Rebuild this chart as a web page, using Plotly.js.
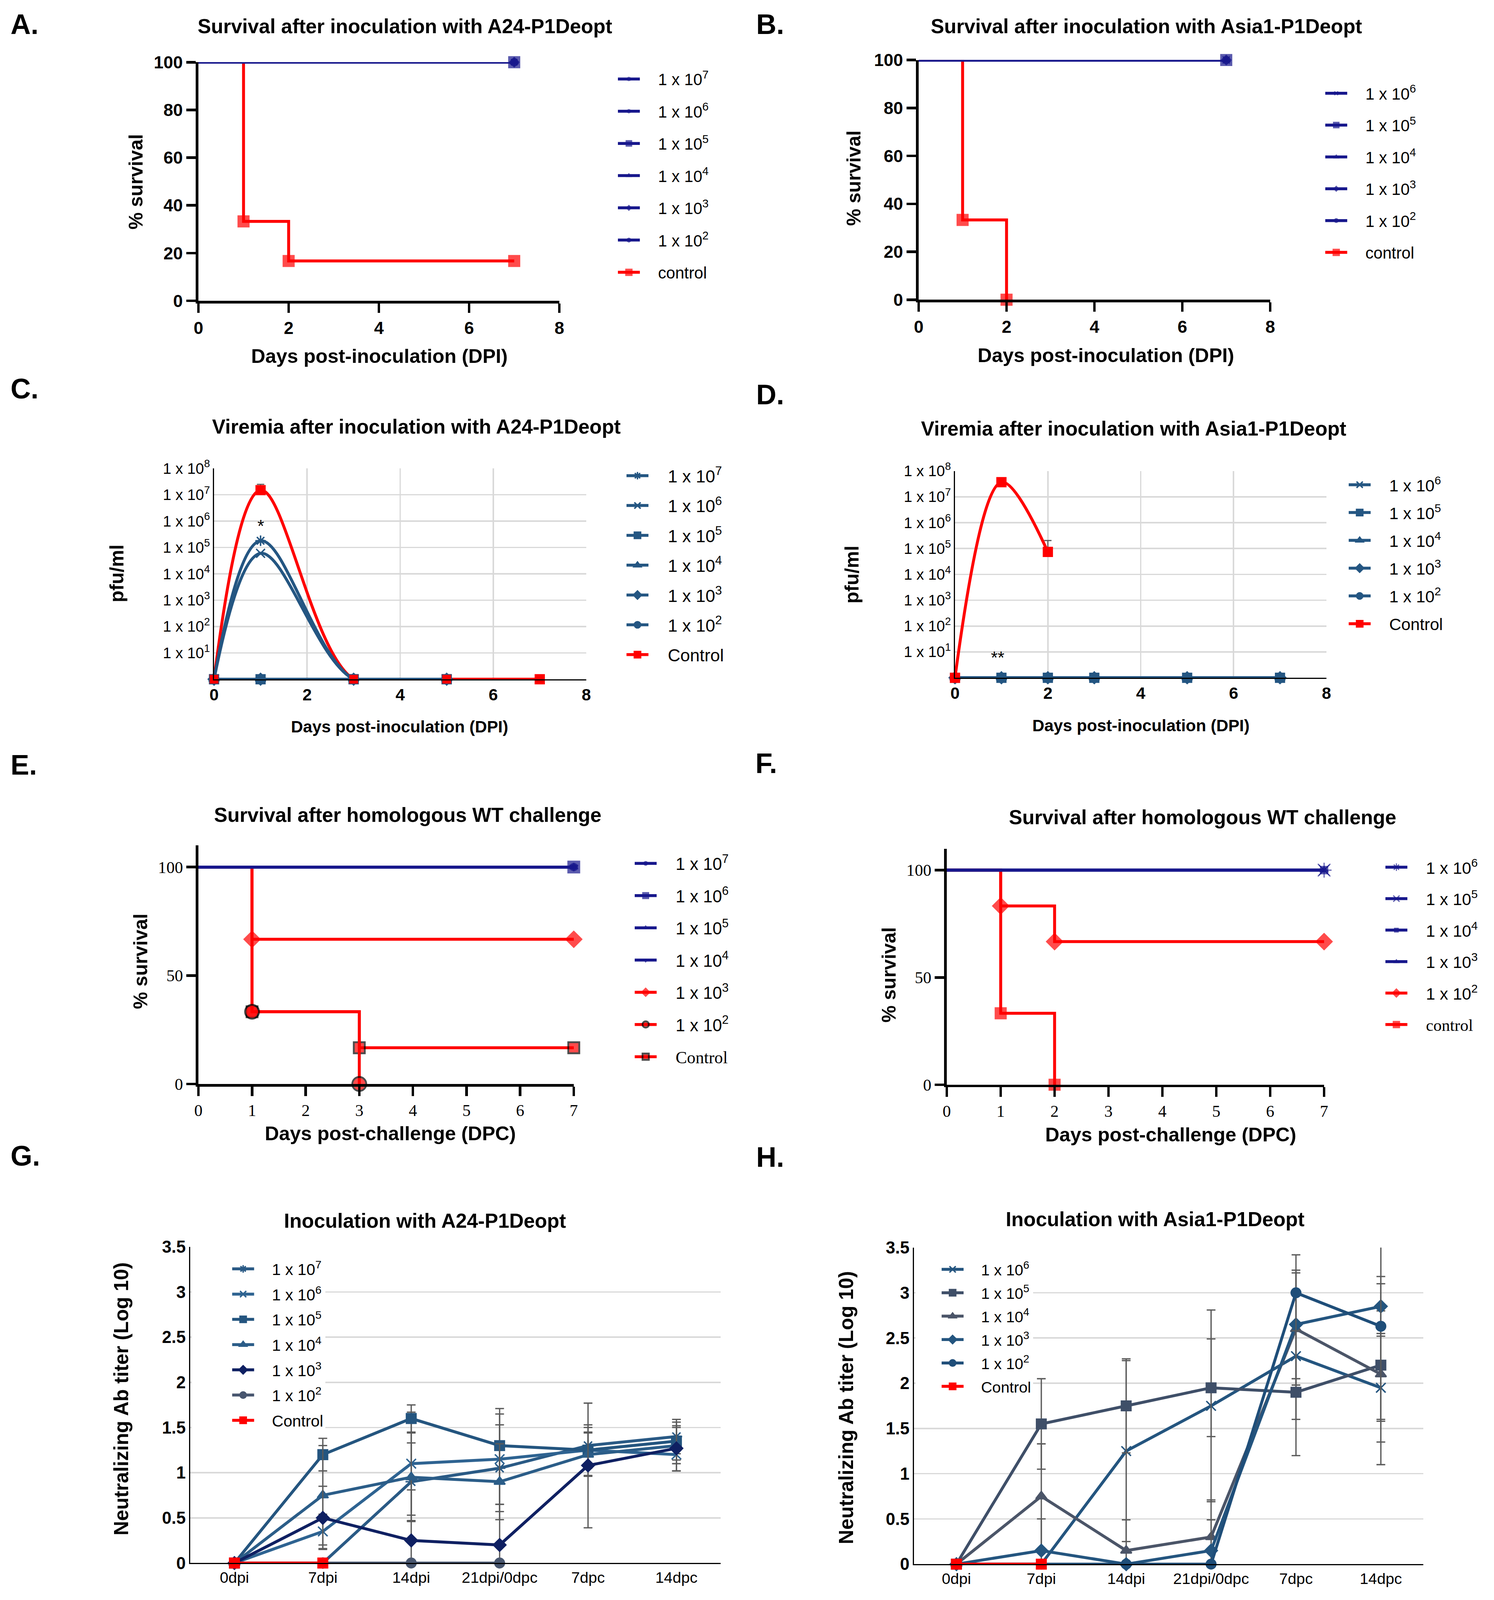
<!DOCTYPE html>
<html><head><meta charset="utf-8">
<script src="https://cdn.plot.ly/plotly-3.0.1.min.js"></script>
<style>html,body{margin:0;padding:0;background:#fff;overflow:hidden}</style>
</head><body><div id="chart"></div>
<script>
// ================= DATA =================
// A: survival after inoculation with A24-P1Deopt
const aDoseLabels = ['1 x 10<sup>7</sup>','1 x 10<sup>6</sup>','1 x 10<sup>5</sup>','1 x 10<sup>4</sup>','1 x 10<sup>3</sup>','1 x 10<sup>2</sup>'];
const aDoseDays = [0, 7];
const aDoseSurv = [100, 100];
const aCtrlDays = [0, 1, 2, 7];
const aCtrlSurv = [100, 33.3, 16.7, 16.7];
// B: survival after inoculation with Asia1-P1Deopt
const bDoseLabels = ['1 x 10<sup>6</sup>','1 x 10<sup>5</sup>','1 x 10<sup>4</sup>','1 x 10<sup>3</sup>','1 x 10<sup>2</sup>'];
const bDoseDays = [0, 7];
const bDoseSurv = [100, 100];
const bCtrlDays = [0, 1, 2];
const bCtrlSurv = [100, 33.3, 0];
// C: viremia A24-P1Deopt (pfu/ml, 1 = not detected)
const cDays = [0, 1, 3, 5];
const c1e7 = [1, 1.8e5, 1, 1];
const c1e6 = [1, 6.0e4, 1, 1];
const c1e5 = [1, 1, 1, 1];
const c1e4 = [1, 1, 1, 1];
const c1e3 = [1, 1, 1, 1];
const c1e2 = [1, 1, 1, 1];
const cCtrlDays = [0, 1, 3, 5, 7];
const cCtrl = [1, 1.5e7, 1, 1, 1];
const cCtrlErr = [0, 1.0e7, 0, 0, 0];
// D: viremia Asia1-P1Deopt
const dDays = [0, 1, 2, 3, 5, 7];
const d1e6 = [1, 1, 1, 1, 1, 1];
const d1e5 = [1, 1, 1, 1, 1, 1];
const d1e4 = [1, 1, 1, 1, 1, 1];
const d1e3 = [1, 1, 1, 1, 1, 1];
const d1e2 = [1, 1, 1, 1, 1, 1];
const dCtrlDays = [0, 1, 2];
const dCtrl = [1, 3.7e7, 7.4e4];
const dCtrlErr = [0, 0, 1.3e5];
const viremiaTickVals = [1e1, 1e2, 1e3, 1e4, 1e5, 1e6, 1e7, 1e8];
const viremiaTickText = ['1 x 10<sup>1</sup>','1 x 10<sup>2</sup>','1 x 10<sup>3</sup>','1 x 10<sup>4</sup>','1 x 10<sup>5</sup>','1 x 10<sup>6</sup>','1 x 10<sup>7</sup>','1 x 10<sup>8</sup>'];
// E: survival after homologous WT challenge (A24)
const eDoseDays = [0, 7];
const eDoseSurv = [100, 100];
const e1e3Days = [0, 1, 7];
const e1e3Surv = [100, 66.7, 66.7];
const e1e2Days = [0, 1, 3];
const e1e2Surv = [100, 33.3, 0];
const eCtrlDays = [0, 1, 3, 7];
const eCtrlSurv = [100, 33.3, 16.7, 16.7];
// F: survival after homologous WT challenge (Asia1)
const fDoseDays = [0, 7];
const fDoseSurv = [100, 100];
const f1e2Days = [0, 1, 2, 7];
const f1e2Surv = [100, 83.3, 66.7, 66.7];
const fCtrlDays = [0, 1, 2];
const fCtrlSurv = [100, 33.3, 0];
// G: neutralizing Ab titer, A24-P1Deopt
const timepoints = ['0dpi', '7dpi', '14dpi', '21dpi/0dpc', '7dpc', '14dpc'];
const g1e7 = [0, 0, 0.9, 1.05, 1.3, 1.4];
const g1e7Err = [0, 0, 0.43, 0.48, 0.2, 0.19];
const g1e6 = [0, 0.35, 1.1, 1.15, 1.25, 1.2];
const g1e6Err = [0, 0.19, 0.57, 0.5, 0.2, 0.18];
const g1e5 = [0, 1.2, 1.6, 1.3, 1.25, 1.35];
const g1e5Err = [0, 0.18, 0.15, 0.41, 0.28, 0.21];
const g1e4 = [0, 0.75, 0.95, 0.9, 1.2, 1.3];
const g1e4Err = [0, 0.55, 0.49, 0.42, 0.24, 0.2];
const g1e3 = [0, 0.5, 0.25, 0.2, 1.08, 1.27];
const g1e3Err = [0, 0.35, 0.56, 0.45, 0.69, 0.25];
const g1e2 = [0, 0, 0, 0, null, null];
const gCtrl = [0, 0];
// H: neutralizing Ab titer, Asia1-P1Deopt
const h1e6 = [0, 0, 1.25, 1.75, 2.3, 1.95];
const h1e6Err = [0, 0, 1.0, 1.06, 0.7, 0.6];
const h1e5 = [0, 1.55, 1.75, 1.95, 1.9, 2.2];
const h1e5Err = [0, 0.5, 0.52, 0.54, 0.7, 0.6];
const h1e4 = [0, 0.75, 0.15, 0.3, 2.6, 2.1];
const h1e4Err = [0, 0.58, 0.34, 0.41, 0.62, 1.0];
const h1e3 = [0, 0.15, 0, 0.15, 2.65, 2.85];
const h1e3Err = [0, 0.35, 0, 0.34, 0.6, 0.33];
const h1e2 = [0, 0, 0, 0, 3.0, 2.63];
const h1e2Err = [0, 0, 0, 0, 0.42, 1.05];
const hCtrl = [0, 0];

// ================= STYLE / LAYOUT HELPERS =================
const REFW = 3825, REFH = 4372;
const W = Math.min(window.innerWidth || REFW, REFW);
const H = Math.min(window.innerHeight || REFH, REFH);
const K = Math.min(W / REFW, H / REFH);
const KF = Math.sqrt(K);
const S = v => Math.round(v * K * 10) / 10;       // line / marker sizes scaled to viewport
const F = v => Math.round(v * KF * 10) / 10;      // font sizes
const px = v => v / REFW;                          // reference px -> paper fraction
const py = v => 1 - v / REFH;
const SANS = 'Liberation Sans, Arial, sans-serif';
const SERIF = 'Liberation Serif, Times New Roman, serif';
const NAVY = '#17178c', RED = '#ff0000', STEEL = '#245682', ERR = '#5a5a5a';
const PAD = '\u2002\u2002';
const lbl = t => PAD + t;
const serifLabel = t => PAD + '<span style="font-family:Liberation Serif,serif">' + t + '</span>';

function axn(i, k) { return i === 1 ? k : k + i; }

const traces = [];
let grp = 0;
function add(panel, leg, t) {
  t.xaxis = axn(panel, 'x'); t.yaxis = axn(panel, 'y');
  t.legend = leg; t.legendgroup = 'g' + (grp++);
  traces.push(t);
}

function surv(panel, leg, name, x, y, color, symbol, endSize, rank, outline) {
  add(panel, leg, {
    type: 'scatter', mode: 'lines+markers', name, x, y, legendrank: rank, cliponaxis: false,
    line: { shape: 'hv', color, width: S(8) },
    marker: { symbol, color, size: x.map((_, i) => i === 0 ? 0 : S(endSize)),
      line: { color: outline || color, width: S(outline ? 5 : 3) } }
  });
}

// ---- Panel A ----
surv(1, 'legend', lbl('control'), aCtrlDays, aCtrlSurv, RED, 'square', 30, 7);
const aSyms = ['asterisk-open', 'asterisk-open', 'square', 'triangle-up', 'diamond', 'circle'];
[0, 1, 3, 4, 5, 2].forEach(k => surv(1, 'legend', lbl(aDoseLabels[k]), aDoseDays, aDoseSurv, NAVY,
  aSyms[k], k === 2 ? 30 : 20, k + 1));

// ---- Panel B ----
surv(2, 'legend2', lbl('control'), bCtrlDays, bCtrlSurv, RED, 'square', 30, 6);
const bSyms = ['x-thin-open', 'square', 'triangle-up', 'diamond', 'circle'];
[0, 2, 3, 4, 1].forEach(k => surv(2, 'legend2', lbl(bDoseLabels[k]), bDoseDays, bDoseSurv, NAVY,
  bSyms[k], k === 1 ? 30 : 20, k + 1));

// ---- Panel C ----
function vir(panel, leg, name, x, y, color, symbol, rank, extra) {
  const t = Object.assign({
    type: 'scatter', mode: 'lines+markers', name, x, y, legendrank: rank, cliponaxis: false,
    line: { shape: 'spline', smoothing: 1, color, width: S(8) },
    marker: { symbol, color, size: S(24), line: { color, width: S(4) } }
  }, extra || {});
  add(panel, leg, t);
}
const errUp = arr => ({ type: 'data', symmetric: false, array: arr, arrayminus: arr.map(() => 0),
  color: ERR, thickness: S(3), width: S(10) });
vir(3, 'legend3', lbl('Control'), cCtrlDays, cCtrl, RED, 'square', 7, { error_y: errUp(cCtrlErr) });
const cSeries = [c1e7, c1e6, c1e5, c1e4, c1e3, c1e2];
const doseSyms6 = ['asterisk-open', 'x-thin-open', 'square', 'triangle-up', 'diamond', 'circle'];
cSeries.forEach((s, k) => vir(3, 'legend3', lbl(aDoseLabels[k]), cDays, s, STEEL, doseSyms6[k], k + 1));
add(3, 'legend3', { type: 'scatter', mode: 'markers', x: cCtrlDays, y: cCtrl, showlegend: false, cliponaxis: false,
  marker: { symbol: 'square', color: RED, size: S(24) } });

// ---- Panel D ----
const dSeries = [d1e6, d1e5, d1e4, d1e3, d1e2];
const doseSyms5 = ['x-thin-open', 'square', 'triangle-up', 'diamond', 'circle'];
dSeries.forEach((s, k) => vir(4, 'legend4', lbl(bDoseLabels[k]), dDays, s, STEEL, doseSyms5[k], k + 1));
vir(4, 'legend4', lbl('Control'), dCtrlDays, dCtrl, RED, 'square', 6, { error_y: errUp(dCtrlErr) });

// ---- Panel E ----
surv(5, 'legend5', serifLabel('Control'), eCtrlDays, eCtrlSurv, RED, 'square', 30, 7, '#000');
surv(5, 'legend5', lbl(aDoseLabels[4]), e1e3Days, e1e3Surv, RED, 'diamond', 34, 5);
surv(5, 'legend5', lbl(aDoseLabels[5]), e1e2Days, e1e2Surv, RED, 'circle', 38, 6, '#000');
[[0, 'circle'], [2, 'triangle-up'], [3, 'triangle-down'], [1, 'square']].forEach(([k, sym]) =>
  surv(5, 'legend5', lbl(aDoseLabels[k]), eDoseDays, eDoseSurv, NAVY, sym, k === 1 ? 32 : 20, k + 1));

// ---- Panel F ----
surv(6, 'legend6', serifLabel('control'), fCtrlDays, fCtrlSurv, RED, 'square', 30, 6);
surv(6, 'legend6', lbl(bDoseLabels[4]), f1e2Days, f1e2Surv, RED, 'diamond', 34, 5);
[[2, 'square'], [3, 'triangle-up'], [0, 'asterisk-open'], [1, 'x-thin-open']].forEach(([k, sym]) =>
  surv(6, 'legend6', lbl(bDoseLabels[k]), fDoseDays, fDoseSurv, NAVY, sym, k < 2 ? 34 : 20, k + 1));

// ---- Panel G ----
function ab(panel, leg, name, y, err, color, symbol, rank) {
  const t = {
    type: 'scatter', mode: 'lines+markers', name, x: timepoints.slice(0, y.length), y, legendrank: rank, cliponaxis: false,
    line: { color, width: S(8) },
    marker: { symbol, color, size: S(26), line: { color, width: S(4) } }
  };
  if (err) t.error_y = { type: 'data', array: err, color: ERR, thickness: S(3.5), width: S(12) };
  add(panel, leg, t);
}
const gSeries = [[g1e7, g1e7Err, '#2a5a85'], [g1e6, g1e6Err, '#2e6391'], [g1e5, g1e5Err, '#24557f'],
  [g1e4, g1e4Err, '#2b5d88'], [g1e3, g1e3Err, '#0f2062'], [g1e2, null, '#48566f']];
gSeries.forEach(([s, e, c], k) => ab(7, 'legend7', lbl(aDoseLabels[k]), s, e, c, doseSyms6[k], k + 1));
ab(7, 'legend7', lbl('Control'), gCtrl, null, RED, 'square', 7);

// ---- Panel H ----
const hSeries = [[h1e6, h1e6Err, '#24557f'], [h1e5, h1e5Err, '#3f4f68'], [h1e4, h1e4Err, '#4b5568'],
  [h1e3, h1e3Err, '#24557f'], [h1e2, h1e2Err, '#1f4e79']];
hSeries.forEach(([s, e, c], k) => ab(8, 'legend8', lbl(bDoseLabels[k]), s, e, c, doseSyms5[k], k + 1));
ab(8, 'legend8', lbl('Control'), hCtrl, null, RED, 'square', 6);

// ================= AXES =================
const bold = (size, fam) => ({ family: fam || SANS, size: F(size), color: '#000', weight: 'bold' });
const reg = (size, fam) => ({ family: fam || SANS, size: F(size), color: '#000' });

function survAxes(xd, yd, xr, yr, xdt, ytv, serif, fsz) {
  const f = serif ? reg(fsz, SERIF) : bold(fsz);
  const common = { ticks: 'outside', ticklen: S(26), tickwidth: S(7), tickcolor: '#000', showline: true,
    linewidth: S(7), linecolor: '#000', showgrid: false, zeroline: false, tickfont: f, fixedrange: true };
  return [Object.assign({ domain: [px(xd[0]), px(xd[1])], range: xr, dtick: xdt, tick0: 0,
    ticklabelstandoff: S(serif ? 3 : 12) }, common),
  Object.assign({ domain: [py(yd[0]), py(yd[1])], range: yr, tickvals: ytv, ticklabelstandoff: S(6) }, common)];
}
function virAxes(xd, yd) {
  return [{
    domain: [px(xd[0]), px(xd[1])], range: [0, 8], dtick: 2, tick0: 0, ticks: '', showline: true, linewidth: S(3),
    linecolor: '#000', showgrid: true, gridcolor: '#d9d9d9', gridwidth: S(4), zeroline: false,
    tickfont: bold(44), ticklabelstandoff: S(20)
  }, {
    domain: [py(yd[0]), py(yd[1])], type: 'log', range: [0, 8], tickvals: viremiaTickVals, ticktext: viremiaTickText,
    ticks: '', showline: true, linewidth: S(3), linecolor: '#000', showgrid: true, gridcolor: '#d9d9d9', gridwidth: S(4),
    zeroline: false, tickfont: reg(40), ticklabelshift: S(12), ticklabelstandoff: S(10)
  }];
}
function abAxes(xd, yd) {
  return [{
    domain: [px(xd[0]), px(xd[1])], type: 'category', categoryorder: 'array', categoryarray: timepoints,
    range: [-0.5, 5.5], ticks: '', showline: true, linewidth: S(3), linecolor: '#000', showgrid: false,
    zeroline: false, tickfont: reg(41), ticklabelstandoff: S(12)
  }, {
    domain: [py(yd[0]), py(yd[1])], range: [0, 3.5], dtick: 0.5, tick0: 0, ticks: '', showline: true, linewidth: S(3),
    linecolor: '#000', showgrid: true, gridcolor: '#d9d9d9', gridwidth: S(4), zeroline: false,
    tickfont: bold(45), ticklabelstandoff: S(18)
  }];
}

const axesList = [
  survAxes([508, 1432], [822, 170], [0, 8], [0, 100], 2, [0, 20, 40, 60, 80, 100], false, 46),
  survAxes([2352, 3252], [819, 164], [0, 8], [0, 100], 2, [0, 20, 40, 60, 80, 100], false, 46),
  virAxes([548, 1501], [1856, 1280]),
  virAxes([2445, 3396], [1852, 1287]),
  survAxes([508, 1469], [2962, 2310], [0, 7], [0, 110], 1, [0, 50, 100], true, 44),
  survAxes([2424, 3390], [2964, 2319], [0, 7], [0, 110], 1, [0, 50, 100], true, 44),
  abAxes([487, 1845], [4271, 3407]),
  abAxes([2340, 3644], [4274, 3409])
];

const layout = {
  width: W, height: H, margin: { l: 0, r: 0, t: 0, b: 0 }, paper_bgcolor: '#fff', plot_bgcolor: 'rgba(0,0,0,0)',
  font: { family: SANS, color: '#000' }, showlegend: true, annotations: []
};
axesList.forEach(([xa, ya], i) => {
  const n = i + 1;
  xa.anchor = axn(n, 'y'); ya.anchor = axn(n, 'x');
  layout[n === 1 ? 'xaxis' : 'xaxis' + n] = xa;
  layout[n === 1 ? 'yaxis' : 'yaxis' + n] = ya;
});

// ================= LEGENDS =================
// spacing = distance between entry centres in reference px
function legend(x, yTop, fs, spacing, bg, indent) {
  const gap = Math.max(0, K * spacing - 1.3 * F(fs) - 3);
  return { x: px(x), y: py(yTop), xanchor: 'left', yanchor: 'top', font: reg(fs), tracegroupgap: Math.round(gap * 10) / 10,
    itemwidth: S(60), bgcolor: bg || 'rgba(0,0,0,0)', borderwidth: 0, traceorder: 'grouped', itemclick: false,
    indentation: S(indent || 0) };
}
layout.legend = legend(1577, 180, 43, 88);
layout.legend2 = legend(3388, 219, 43, 87);
layout.legend3 = legend(1599, 1262, 46, 81.5);
layout.legend4 = legend(3448, 1288, 44, 76);
layout.legend5 = legend(1620, 2322, 45, 88);
layout.legend6 = legend(3542, 2333, 44, 86);
layout.legend7 = legend(491, 3432, 42, 69, '#fff', 105);   // in-plot legends with white box (hides gridlines)
layout.legend8 = legend(2344, 3434, 41, 64, '#fff', 66);

// ================= TEXT =================
function ann(text, x, y, font, opts) {
  layout.annotations.push(Object.assign({ text, x: px(x), y: py(y), xref: 'paper', yref: 'paper',
    showarrow: false, font, xanchor: 'center', yanchor: 'middle' }, opts || {}));
}
[['A.', 25, 66], ['B.', 1934, 66], ['C.', 25, 1062], ['D.', 1934, 1078], ['E.', 25, 2090],
 ['F.', 1932, 2086], ['G.', 25, 3158], ['H.', 1934, 3162]].forEach(([t, x, y]) => ann(t, x, y, bold(74), { xanchor: 'left' }));
[['Survival after inoculation with A24-P1Deopt', 1036, 72],
 ['Survival after inoculation with Asia1-P1Deopt', 2935, 72],
 ['Viremia after inoculation with A24-P1Deopt', 1066, 1166],
 ['Viremia after inoculation with Asia1-P1Deopt', 2902, 1171],
 ['Survival after homologous WT challenge', 1044, 2227],
 ['Survival after homologous WT challenge', 3079, 2234],
 ['Inoculation with A24-P1Deopt', 1088, 3336],
 ['Inoculation with Asia1-P1Deopt', 2957, 3332]].forEach(([t, x, y]) => ann(t, x, y, bold(53)));
[['Days post-inoculation (DPI)', 972, 973, 52], ['Days post-inoculation (DPI)', 2831, 971, 52],
 ['Days post-inoculation (DPI)', 1023, 1985, 44], ['Days post-inoculation (DPI)', 2921, 1982, 44],
 ['Days post-challenge (DPC)', 999, 3097, 52], ['Days post-challenge (DPC)', 2997, 3100, 52]]
  .forEach(([t, x, y, s]) => ann(t, x, y, bold(s)));
[['% survival', 348, 497, 51], ['% survival', 2185, 487, 51], ['pfu/ml', 298, 1567, 51], ['pfu/ml', 2181, 1570, 51],
 ['% survival', 359, 2627, 51], ['% survival', 2276, 2664, 51],
 ['Neutralizing Ab titer (Log 10)', 311, 3823, 53], ['Neutralizing Ab titer (Log 10)', 2166, 3847, 53]]
  .forEach(([t, x, y, s]) => ann(t, x, y, bold(s), { textangle: -90 }));
const cStarDay = 1, cStarLevel = 6.6e5, dStarDay = 0.92, dStarLevel = 6;
layout.annotations.push({ text: '*', x: cStarDay, y: Math.log10(cStarLevel), xref: 'x3', yref: 'y3', showarrow: false, font: reg(46) });
layout.annotations.push({ text: '**', x: dStarDay, y: Math.log10(dStarLevel), xref: 'x4', yref: 'y4', showarrow: false, font: reg(46) });

document.getElementById('chart').style.width = W + 'px';
document.getElementById('chart').style.height = H + 'px';
Plotly.newPlot('chart', traces, layout, { staticPlot: true, displayModeBar: false });
</script></body></html>
